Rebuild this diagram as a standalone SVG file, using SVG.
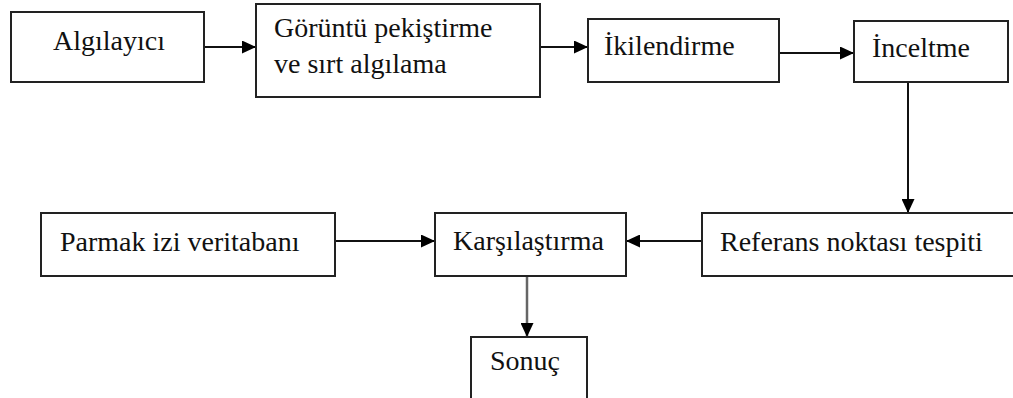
<svg xmlns="http://www.w3.org/2000/svg" width="1013" height="398" viewBox="0 0 1013 398">
<defs>
<style>
.box{fill:#fff;stroke:#222;stroke-width:2}
.t{font-family:"Liberation Serif","Times New Roman",serif;font-size:28px;fill:#111}
.c{stroke:#111;stroke-width:2;fill:none}
</style>
<marker id="ah" markerWidth="14" markerHeight="13" refX="14" refY="6.5" orient="auto" markerUnits="userSpaceOnUse" viewBox="0 0 14 13">
<path d="M0,0 L14,6.5 L0,13 z" fill="#000"/>
</marker>
</defs>
<rect width="1013" height="398" fill="#fff"/>
<g id="connectors">
<line class="c" x1="204" y1="47" x2="256" y2="47" marker-end="url(#ah)"/>
<line class="c" x1="540" y1="47" x2="588" y2="47" marker-end="url(#ah)"/>
<line class="c" x1="779" y1="53" x2="854" y2="53" marker-end="url(#ah)"/>
<line class="c" x1="908" y1="82" x2="908" y2="213" marker-end="url(#ah)"/>
<line class="c" x1="702" y1="241" x2="626" y2="241" marker-end="url(#ah)"/>
<line class="c" x1="335" y1="241" x2="435" y2="241" marker-end="url(#ah)"/>
<line class="c" x1="527" y1="276" x2="527" y2="337" style="stroke:#666;stroke-width:2.5" marker-end="url(#ah)"/>
</g>
<g id="n1"><rect class="box" x="11" y="12" width="193" height="70"/><text class="t" x="53" y="50">Algılayıcı</text></g>
<g id="n2"><rect class="box" x="256" y="4" width="284" height="93"/><text class="t" x="274" y="37">Görüntü pekiştirme</text><text class="t" x="274" y="73">ve sırt algılama</text></g>
<g id="n3"><rect class="box" x="588" y="19" width="191" height="63"/><text class="t" x="604" y="55">İkilendirme</text></g>
<g id="n4"><rect class="box" x="854" y="21" width="154" height="61"/><text class="t" x="872" y="57">İnceltme</text></g>
<g id="n5"><rect class="box" x="702" y="213" width="320" height="63"/><text class="t" x="720" y="251">Referans noktası tespiti</text></g>
<g id="n6"><rect class="box" x="435" y="213" width="191" height="63"/><text class="t" x="453" y="250">Karşılaştırma</text></g>
<g id="n7"><rect class="box" x="41" y="213" width="294" height="63"/><text class="t" x="60" y="251">Parmak izi veritabanı</text></g>
<g id="n8"><rect class="box" x="471" y="337" width="116" height="70"/><text class="t" x="490" y="370">Sonuç</text></g>
</svg>
